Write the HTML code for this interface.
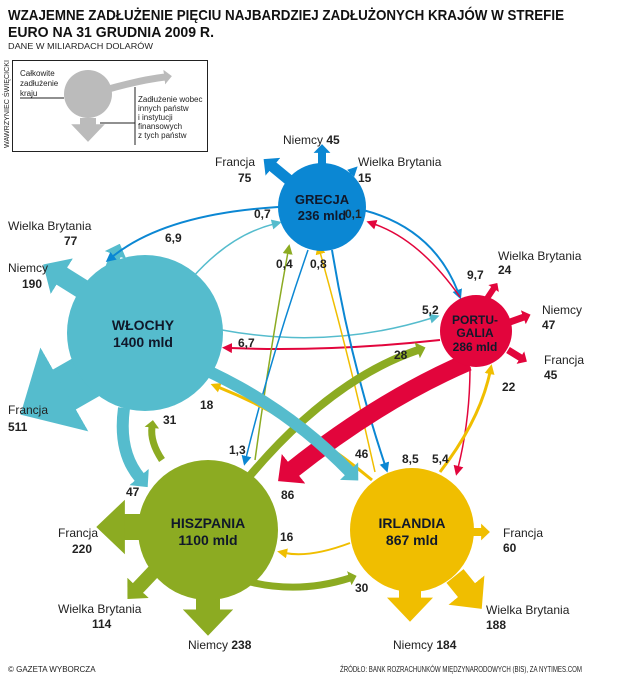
<!DOCTYPE html>
<html><head><meta charset="utf-8"><style>
html,body{margin:0;padding:0;background:#fff}
svg{display:block;font-family:"Liberation Sans",sans-serif}
.l{font-size:12px;fill:#222}
.b{font-size:12px;font-weight:bold;fill:#222}
.c{font-size:13px;font-weight:bold;fill:#10182a;text-anchor:middle}
</style></head><body>
<svg width="624" height="682" viewBox="0 0 624 682">
<defs>
<marker id="bB" viewBox="0 0 10 10" refX="1" refY="5" markerWidth="1.1" markerHeight="2.1" orient="auto" markerUnits="strokeWidth" preserveAspectRatio="none"><path d="M0,0L10,5L0,10z" fill="#0b87d3"/></marker>
<marker id="bT" viewBox="0 0 10 10" refX="1" refY="5" markerWidth="1.1" markerHeight="2.1" orient="auto" markerUnits="strokeWidth" preserveAspectRatio="none"><path d="M0,0L10,5L0,10z" fill="#55bccd"/></marker>
<marker id="bR" viewBox="0 0 10 10" refX="1" refY="5" markerWidth="1.1" markerHeight="2.1" orient="auto" markerUnits="strokeWidth" preserveAspectRatio="none"><path d="M0,0L10,5L0,10z" fill="#e2053c"/></marker>
<marker id="bO" viewBox="0 0 10 10" refX="1" refY="5" markerWidth="1.1" markerHeight="2.1" orient="auto" markerUnits="strokeWidth" preserveAspectRatio="none"><path d="M0,0L10,5L0,10z" fill="#8cab22"/></marker>
<marker id="bY" viewBox="0 0 10 10" refX="1" refY="5" markerWidth="1.1" markerHeight="2.1" orient="auto" markerUnits="strokeWidth" preserveAspectRatio="none"><path d="M0,0L10,5L0,10z" fill="#f0be00"/></marker>
<marker id="bG" viewBox="0 0 10 10" refX="1" refY="5" markerWidth="1.1" markerHeight="2.1" orient="auto" markerUnits="strokeWidth" preserveAspectRatio="none"><path d="M0,0L10,5L0,10z" fill="#bbb"/></marker>
<marker id="tB" viewBox="0 0 10 10" refX="2" refY="5" markerWidth="10" markerHeight="10" orient="auto" markerUnits="userSpaceOnUse"><path d="M0,0L10,5L0,10z" fill="#0b87d3"/></marker>
<marker id="tT" viewBox="0 0 10 10" refX="2" refY="5" markerWidth="10" markerHeight="10" orient="auto" markerUnits="userSpaceOnUse"><path d="M0,0L10,5L0,10z" fill="#55bccd"/></marker>
<marker id="tR" viewBox="0 0 10 10" refX="2" refY="5" markerWidth="10" markerHeight="10" orient="auto" markerUnits="userSpaceOnUse"><path d="M0,0L10,5L0,10z" fill="#e2053c"/></marker>
<marker id="tO" viewBox="0 0 10 10" refX="2" refY="5" markerWidth="10" markerHeight="10" orient="auto" markerUnits="userSpaceOnUse"><path d="M0,0L10,5L0,10z" fill="#8cab22"/></marker>
<marker id="tY" viewBox="0 0 10 10" refX="2" refY="5" markerWidth="10" markerHeight="10" orient="auto" markerUnits="userSpaceOnUse"><path d="M0,0L10,5L0,10z" fill="#f0be00"/></marker>
</defs>

<text x="8" y="20" font-size="15" font-weight="bold" fill="#111" textLength="556" lengthAdjust="spacingAndGlyphs">WZAJEMNE ZADŁUŻENIE PIĘCIU NAJBARDZIEJ ZADŁUŻONYCH KRAJÓW W STREFIE</text>
<text x="8" y="37" font-size="15" font-weight="bold" fill="#111" textLength="206" lengthAdjust="spacingAndGlyphs">EURO NA 31 GRUDNIA 2009 R.</text>
<text x="8" y="49" font-size="8" fill="#222" textLength="145" lengthAdjust="spacingAndGlyphs">DANE W MILIARDACH DOLARÓW</text>

<!-- legend -->
<rect x="12.5" y="60.5" width="195" height="91" fill="none" stroke="#222"/>
<text transform="translate(9,148) rotate(-90)" font-size="7" fill="#222" textLength="88" lengthAdjust="spacingAndGlyphs">WAWRZYNIEC ŚWIĘCICKI</text>
<path d="M105,90 Q140,80 165,77" fill="none" stroke="#bbb" stroke-width="7" marker-end="url(#bG)"/>
<circle cx="88" cy="94" r="24" fill="#bbb"/>
<path d="M88,118 L88,126" stroke="#bbb" stroke-width="16" marker-end="url(#bG)"/>
<text x="20" y="76" style="font-size:8px" fill="#222">Całkowite</text>
<text x="20" y="86" style="font-size:8px" fill="#222">zadłużenie</text>
<text x="20" y="96" style="font-size:8px" fill="#222">kraju</text>
<line x1="20" y1="98" x2="64" y2="98" stroke="#222"/>
<line x1="135" y1="87" x2="135" y2="145" stroke="#222"/>
<line x1="100" y1="123" x2="135" y2="123" stroke="#222"/>
<text x="138" y="102" style="font-size:8px" fill="#222">Zadłużenie wobec</text>
<text x="138" y="111" style="font-size:8px" fill="#222">innych państw</text>
<text x="138" y="120" style="font-size:8px" fill="#222">i instytucji</text>
<text x="138" y="129" style="font-size:8px" fill="#222">finansowych</text>
<text x="138" y="138" style="font-size:8px" fill="#222">z tych państw</text>

<!-- big outgoing arrows -->
<path d="M295,185 L272,166" stroke="#0b87d3" stroke-width="11" marker-end="url(#bB)"/>
<path d="M322,166 L322,152" stroke="#0b87d3" stroke-width="8" marker-end="url(#bB)"/>
<path d="M344,180 L352,172" stroke="#0b87d3" stroke-width="3" marker-end="url(#tB)"/>
<path d="M95,372 L60,392" stroke="#55bccd" stroke-width="46" marker-end="url(#bT)"/>
<path d="M92,295 L60,275" stroke="#55bccd" stroke-width="20" marker-end="url(#bT)"/>
<path d="M110,270 L116,254" stroke="#55bccd" stroke-width="11" marker-end="url(#bT)"/>
<path d="M486,300 L494,288" stroke="#e2053c" stroke-width="6" marker-end="url(#bR)"/>
<path d="M510,322 L524,317" stroke="#e2053c" stroke-width="7" marker-end="url(#bR)"/>
<path d="M508,350 L521,358" stroke="#e2053c" stroke-width="7" marker-end="url(#bR)"/>
<path d="M142,527 L122,527" stroke="#8cab22" stroke-width="26" marker-end="url(#bO)"/>
<path d="M155,570 L137,589" stroke="#8cab22" stroke-width="14" marker-end="url(#bO)"/>
<path d="M208,597 L208,612" stroke="#8cab22" stroke-width="24" marker-end="url(#bO)"/>
<path d="M470,532 L482,532" stroke="#f0be00" stroke-width="8" marker-end="url(#bY)"/>
<path d="M455,576 L468,592" stroke="#f0be00" stroke-width="22" marker-end="url(#bY)"/>
<path d="M410,590 L410,600" stroke="#f0be00" stroke-width="22" marker-end="url(#bY)"/>

<!-- connecting flows -->
<path d="M300,206 Q170,210 112,257" fill="none" stroke="#0b87d3" stroke-width="2" marker-end="url(#tB)"/>
<path d="M192,278 Q230,235 274,224" fill="none" stroke="#55bccd" stroke-width="1.5" marker-end="url(#tT)"/>
<path d="M344,206 Q430,220 458,292" fill="none" stroke="#0b87d3" stroke-width="2" marker-end="url(#tB)"/>
<path d="M460,297 Q420,240 374,224" fill="none" stroke="#e2053c" stroke-width="1.5" marker-end="url(#tR)"/>
<path d="M222,330 Q330,350 432,318" fill="none" stroke="#55bccd" stroke-width="1.5" marker-end="url(#tT)"/>
<path d="M440,340 Q330,352 230,348" fill="none" stroke="#e2053c" stroke-width="2" marker-end="url(#tR)"/>
<path d="M255,460 Q270,350 288,252" fill="none" stroke="#8cab22" stroke-width="1.5" marker-end="url(#tO)"/>
<path d="M308,250 Q270,360 246,458" fill="none" stroke="#0b87d3" stroke-width="1.5" marker-end="url(#tB)"/>
<path d="M375,472 Q350,360 320,252" fill="none" stroke="#f0be00" stroke-width="1.5" marker-end="url(#tY)"/>
<path d="M332,250 Q350,360 385,465" fill="none" stroke="#0b87d3" stroke-width="2" marker-end="url(#tB)"/>
<path d="M470,367 Q470,420 458,468" fill="none" stroke="#e2053c" stroke-width="1.5" marker-end="url(#tR)"/>
<path d="M440,472 Q480,420 490,372" fill="none" stroke="#f0be00" stroke-width="3" marker-end="url(#tY)"/>
<path d="M248,478 Q330,380 418,350" fill="none" stroke="#8cab22" stroke-width="8" marker-end="url(#bO)"/>
<path d="M468,362 Q380,400 292,470" fill="none" stroke="#e2053c" stroke-width="18" marker-end="url(#bR)"/>
<path d="M372,480 Q300,420 218,387" fill="none" stroke="#f0be00" stroke-width="3" marker-end="url(#tY)"/>
<path d="M210,372 Q290,410 350,472" fill="none" stroke="#55bccd" stroke-width="12" marker-end="url(#bT)"/>
<path d="M124,408 Q118,452 140,478" fill="none" stroke="#55bccd" stroke-width="12" marker-end="url(#bT)"/>
<path d="M162,460 Q150,442 152,427" fill="none" stroke="#8cab22" stroke-width="7" marker-end="url(#bO)"/>
<path d="M350,543 Q310,558 285,553" fill="none" stroke="#f0be00" stroke-width="2" marker-end="url(#tY)"/>
<path d="M250,582 Q300,594 350,578" fill="none" stroke="#8cab22" stroke-width="7" marker-end="url(#bO)"/>

<!-- circles -->
<circle cx="322" cy="207" r="44" fill="#0b87d3"/>
<circle cx="145" cy="333" r="78" fill="#55bccd"/>
<circle cx="476" cy="331" r="36" fill="#e2053c"/>
<circle cx="208" cy="530" r="70" fill="#8cab22"/>
<circle cx="412" cy="530" r="62" fill="#f0be00"/>
<text class="c" x="322" y="204">GRECJA</text><text class="c" x="322" y="220">236 mld</text>
<text class="c" x="143" y="330" style="font-size:14px">WŁOCHY</text><text class="c" x="143" y="347" style="font-size:14px">1400 mld</text>
<text class="c" x="475" y="324" style="font-size:12px">PORTU-</text><text class="c" x="475" y="337" style="font-size:12px">GALIA</text><text class="c" x="475" y="351" style="font-size:12px">286 mld</text>
<text class="c" x="208" y="528" style="font-size:14px">HISZPANIA</text><text class="c" x="208" y="545" style="font-size:14px">1100 mld</text>
<text class="c" x="412" y="528" style="font-size:14px">IRLANDIA</text><text class="c" x="412" y="545" style="font-size:14px">867 mld</text>

<!-- labels -->
<text class="l" x="283" y="144">Niemcy <tspan class="b">45</tspan></text>
<text class="l" x="215" y="166">Francja</text><text class="b" x="238" y="182">75</text>
<text class="l" x="358" y="166">Wielka Brytania</text><text class="b" x="358" y="182">15</text>
<text class="l" x="8" y="230">Wielka Brytania</text><text class="b" x="64" y="245">77</text>
<text class="l" x="8" y="272">Niemcy</text><text class="b" x="22" y="288">190</text>
<text class="l" x="8" y="414">Francja</text><text class="b" x="8" y="431">511</text>
<text class="l" x="498" y="260">Wielka Brytania</text><text class="b" x="498" y="274">24</text>
<text class="l" x="542" y="314">Niemcy</text><text class="b" x="542" y="329">47</text>
<text class="l" x="544" y="364">Francja</text><text class="b" x="544" y="379">45</text>
<text class="l" x="58" y="537">Francja</text><text class="b" x="72" y="553">220</text>
<text class="l" x="58" y="613">Wielka Brytania</text><text class="b" x="92" y="628">114</text>
<text class="l" x="188" y="649">Niemcy <tspan class="b">238</tspan></text>
<text class="l" x="503" y="537">Francja</text><text class="b" x="503" y="552">60</text>
<text class="l" x="486" y="614">Wielka Brytania</text><text class="b" x="486" y="629">188</text>
<text class="l" x="393" y="649">Niemcy <tspan class="b">184</tspan></text>

<text class="b" x="165" y="242">6,9</text>
<text class="b" x="254" y="218">0,7</text>
<text class="b" x="345" y="218">0,1</text>
<text class="b" x="467" y="279">9,7</text>
<text class="b" x="422" y="314">5,2</text>
<text class="b" x="238" y="347">6,7</text>
<text class="b" x="276" y="268">0,4</text>
<text class="b" x="310" y="268">0,8</text>
<text class="b" x="394" y="359">28</text>
<text class="b" x="502" y="391">22</text>
<text class="b" x="200" y="409">18</text>
<text class="b" x="163" y="424">31</text>
<text class="b" x="229" y="454">1,3</text>
<text class="b" x="355" y="458">46</text>
<text class="b" x="402" y="463">8,5</text>
<text class="b" x="432" y="463">5,4</text>
<text class="b" x="126" y="496">47</text>
<text class="b" x="281" y="499">86</text>
<text class="b" x="280" y="541">16</text>
<text class="b" x="355" y="592">30</text>

<text x="8" y="672" font-size="8" fill="#222">© GAZETA WYBORCZA</text>
<text x="340" y="672" font-size="8" fill="#222" textLength="242" lengthAdjust="spacingAndGlyphs">ŹRÓDŁO: BANK ROZRACHUNKÓW MIĘDZYNARODOWYCH (BIS), ZA NYTIMES.COM</text>
</svg>
</body></html>
